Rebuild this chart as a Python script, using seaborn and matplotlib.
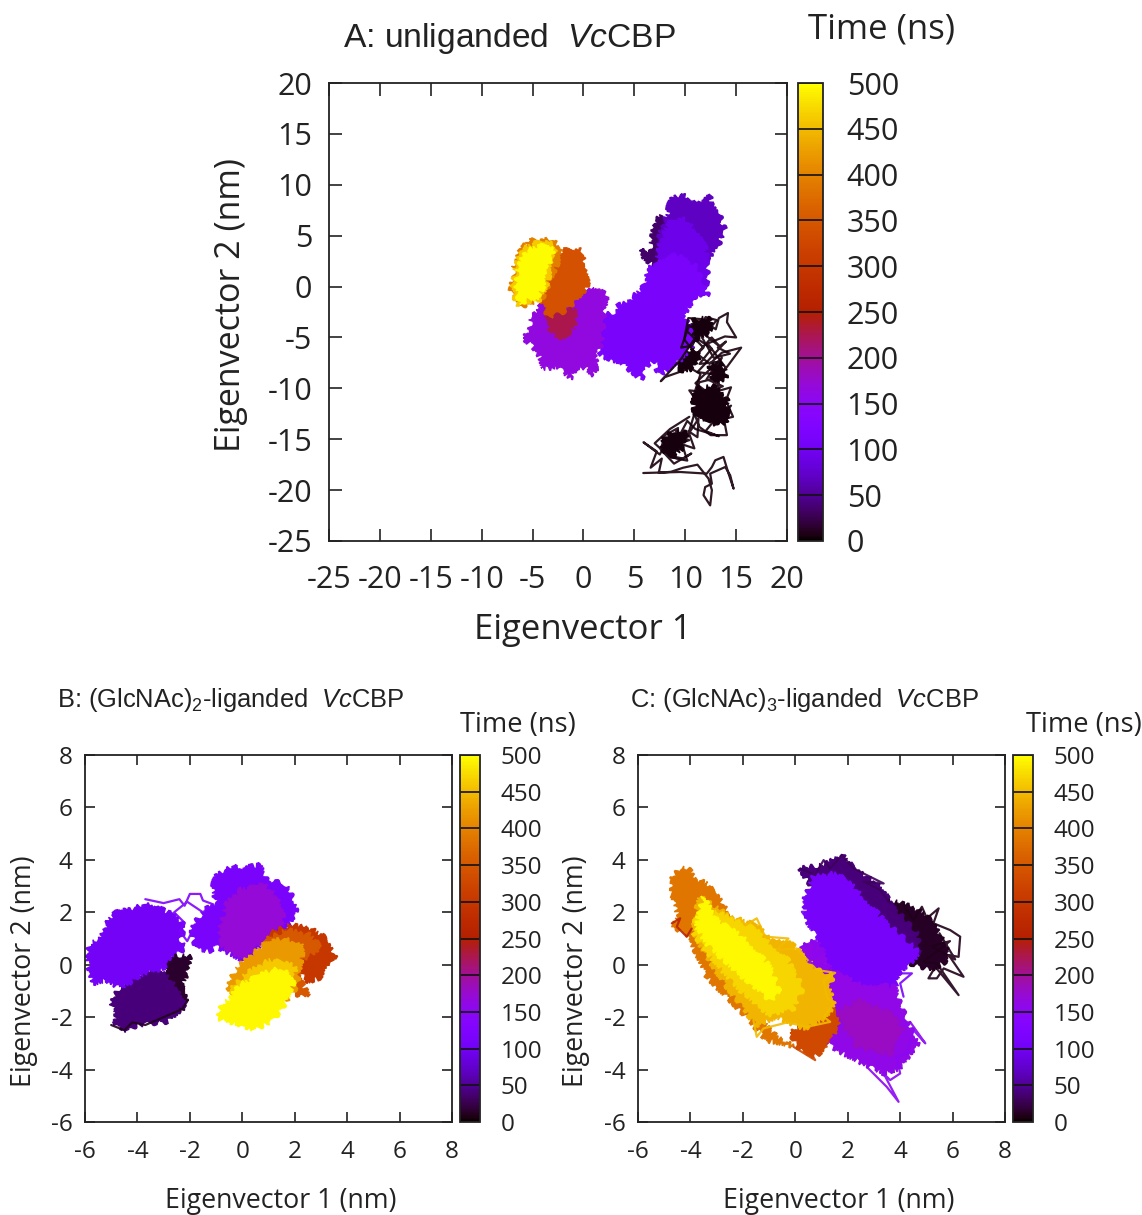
import matplotlib
matplotlib.use("Agg")
import matplotlib.pyplot as plt
import pandas as pd
import seaborn as sns
from matplotlib.cm import ScalarMappable
from matplotlib.colors import Normalize

W, H = 1142, 1215

# time values of each colour band on the colour bars
TIME_TICKS = [0, 50, 100, 150, 200, 250, 300, 350, 400, 450, 500]

# --- panel A, regions covered by the trajectory (eigenvector 1, eigenvector 2)
A_DARK = [(5.5, 3.52), (6.62, 3.42), (6.72, 4.73), (7.04, 6.37), (7.7, 7.03), (8.19, 5.88), (7.86, 3.91), (7.37, 1.95), (6.62, 2.27), (5.9, 2.86)]
A_INDIGO = [(7.7, 2.27), (7.37, 4.57), (7.86, 6.2), (8.35, 7.19), (8.35, 8.34), (9.67, 9.09), (10.81, 8.5), (11.47, 8.44), (12.45, 8.83), (12.62, 7.85), (13.44, 7.19), (13.6, 5.88), (14.09, 5.72), (13.44, 4.73), (13.27, 3.75), (12.62, 3.42), (12.45, 2.6), (11.3, 1.62), (9.5, 1.29), (7.21, 1.62)]
A_INDIGO_2 = [(6.9, 1.0), (7.5, 4.0), (8.3, 6.2), (10.0, 6.6), (11.8, 4.8), (12.2, 2.5), (12.2, 0.5), (11.5, -1.0), (8.0, -1.0), (6.5, 0.0)]
A_VIOLET = [(1.3, -2.64), (2.13, -2.8), (3.27, -2.48), (3.44, -1.83), (4.26, -1.66), (5.08, -0.84), (5.9, -0.02), (6.39, 0.31), (6.22, 1.62), (7.21, 2.6), (9.2, 3.1), (11.14, 1.94), (11.47, 0.96), (11.8, 0.31), (12.29, -1.0), (11.14, -0.84), (10.32, -1.99), (9.83, -2.8), (10.49, -3.96), (10.81, -5.76), (9.5, -7.23), (8.19, -8.22), (7.7, -8.55), (7.21, -8.22), (7.04, -7.23), (6.22, -7.89), (5.73, -9.14), (4.58, -8.22), (3.6, -7.4), (2.45, -7.07), (1.63, -6.74)]
A_PURPLE = [(-5.9, -5.1), (-5.25, -4.28), (-5.09, -2.97), (-4.43, -2.48), (-4.27, -1.5), (-0.33, -0.35), (0.98, -0.02), (2.29, -0.84), (2.03, -2.64), (1.8, -5.6), (1.14, -6.91), (1.47, -7.89), (0.65, -8.71), (0.32, -7.89), (-0.66, -8.05), (-1.32, -9.04), (-2.47, -7.89), (-3.94, -8.05), (-4.27, -6.91), (-4.92, -5.92)]
A_CRIMSON = [(-3.94, -2.64), (-3.45, -2.48), (-1.97, -2.15), (-0.66, -2.48), (-0.92, -3.96), (-1.97, -5.1), (-3.28, -4.45), (-3.61, -3.63)]
A_RUST = [(-4.43, -1.17), (-3.9, 0.2), (-3.45, 1.29), (-3.12, 2.6), (-2.5, 3.2), (-1.8, 3.58), (-0.82, 3.42), (-0.17, 3.58), (0.16, 2.27), (0.58, 0.96), (0.3, -0.1), (-0.17, -0.68), (-0.82, -1.5), (-1.97, -2.48), (-3.45, -2.97), (-3.94, -1.83)]
A_ORANGE = [(-7.28, -0.03), (-6.73, 0.63), (-6.89, 1.78), (-6.5, 2.44), (-6.24, 3.91), (-5.58, 4.08), (-5.42, 4.63), (-4.43, 4.31), (-3.45, 4.63), (-2.79, 4.4), (-1.97, 3.65), (-3.94, -1.0), (-5.25, -1.66), (-6.24, -1.99), (-6.73, -0.84)]
A_GOLD = [(-7.0, -0.3), (-6.7, 1.7), (-6.1, 3.6), (-4.6, 4.3), (-3.0, 4.2), (-2.7, 3.3), (-3.3, 1.3), (-3.7, -0.1), (-4.4, -1.4), (-5.6, -1.5), (-6.3, -2.0), (-6.8, -1.0)]
A_YELLOW = [(-6.6, -0.4), (-6.45, 1.62), (-5.8, 3.3), (-4.43, 4.0), (-3.3, 3.9), (-3.0, 3.2), (-3.6, 1.29), (-3.95, -0.03), (-4.6, -1.2), (-5.6, -1.3), (-6.2, -1.8)]
A_BLACK_CORE_1 = [(10.8, -11.0), (11.2, -10.0), (12.8, -9.8), (14.1, -11.0), (14.2, -13.0), (13.4, -13.6), (12.0, -13.4), (10.9, -12.6)]
A_BLACK_CORE_2 = [(7.6, -15.2), (8.8, -14.2), (10.2, -14.4), (9.8, -15.8), (8.8, -16.7), (8.0, -16.2)]
A_BLACK_CORE_3 = [(10.2, -4.2), (11.0, -3.1), (12.4, -3.2), (12.6, -4.4), (11.0, -5.2)]
A_BLACK_CORE_4 = [(12.4, -7.8), (13.8, -7.6), (14.0, -9.0), (12.8, -9.4)]
A_BLACK_CORE_5 = [(9.4, -7.4), (10.6, -6.0), (11.4, -6.8), (10.8, -8.0), (9.6, -8.4)]
A_LAYERS = [(5, A_BLACK_CORE_1), (5, A_BLACK_CORE_2), (5, A_BLACK_CORE_3), (5, A_BLACK_CORE_4), (5, A_BLACK_CORE_5), (35, A_DARK), (70, A_INDIGO), (92, A_INDIGO_2), (115, A_VIOLET), (165, A_PURPLE), (225, A_CRIMSON), (340, A_RUST), (395, A_ORANGE), (460, A_GOLD), (497, A_YELLOW)]
A_TRACE_1 = [(5.88, -18.32), (9.5, -18.22), (12.12, -18.38), (12.62, -17.73), (12.95, -17.07), (13.76, -16.74), (14.26, -18.38), (14.75, -19.86), (14.42, -18.55), (13.93, -17.73), (12.45, -18.38), (12.62, -19.37), (11.96, -19.7), (11.8, -20.5), (12.45, -21.5), (12.62, -20.0), (12.29, -18.87), (11.2, -17.5), (9.8, -17.8), (8.6, -18.2), (7.4, -18.3), (7.7, -16.9), (6.6, -17.8), (7.2, -16.2), (5.9, -15.3), (7.5, -16.5), (8.2, -15.2), (9.1, -16.9), (10.2, -17.1), (9.7, -15.5), (10.9, -15.9), (10.3, -14.2), (11.2, -14.8), (11.3, -13.0), (10.3, -14.5), (10.9, -12.5), (11.4, -13.8), (12.5, -14.6), (14.1, -14.6), (13.8, -13.0), (14.7, -12.8), (14.0, -11.2), (14.5, -9.9), (13.1, -10.3), (13.4, -8.9), (11.4, -9.4), (10.6, -11.4), (11.5, -8.6), (9.8, -7.6), (10.8, -6.3), (12.4, -7.6), (13.6, -6.5), (15.5, -6.0), (14.1, -7.9), (13.0, -9.0), (14.0, -8.0), (12.2, -5.6), (13.9, -4.9), (15.0, -5.0), (14.1, -3.5), (14.2, -2.6), (13.3, -3.1), (13.0, -4.2), (11.6, -3.2), (10.3, -3.1), (9.9, -5.2), (11.2, -6.8), (10.0, -8.2), (8.0, -8.9), (7.6, -9.3), (9.6, -7.1), (11.0, -5.0), (12.6, -6.1), (11.4, -7.6), (13.2, -7.4), (12.1, -9.1), (13.7, -9.8), (11.2, -10.6)]
A_TRACE_2 = [(10.3, -4.5), (11.8, -6.0), (10.6, -7.2), (12.6, -5.0), (13.4, -5.9), (11.9, -4.7), (13.1, -3.3), (12.0, -3.0), (10.7, -5.8), (9.6, -6.0), (10.4, -3.8), (11.3, -4.4), (12.8, -7.0), (14.4, -6.6), (13.2, -6.0), (14.0, -5.4), (11.2, -8.4), (12.7, -8.6), (13.6, -7.0), (11.0, -9.5), (12.2, -10.4), (10.4, -10.2), (11.6, -11.9), (13.2, -11.4), (11.3, -12.8), (13.0, -13.4), (14.5, -11.7), (13.4, -12.5), (12.0, -14.2), (13.3, -14.7), (11.0, -14.0), (10.2, -13.2), (9.4, -14.7), (10.4, -15.1), (8.4, -15.6), (9.3, -13.9), (8.0, -14.6), (7.6, -16.0), (8.9, -17.4), (10.6, -16.4), (9.8, -16.9), (8.3, -16.6), (7.0, -15.4), (8.5, -14.0), (10.4, -12.8)]
A_TRACES = [(4, A_TRACE_1), (4, A_TRACE_2)]

# --- panel B
B_BLACK = [(-2.94, 0.11), (-2.63, 0.37), (-2.0, 0.3), (-2.12, -0.33), (-2.31, -0.84), (-2.12, -1.48), (-2.37, -1.86), (-2.88, -1.6)]
B_INDIGO = [(-4.98, -1.48), (-4.85, -1.16), (-4.66, -0.84), (-4.15, -0.59), (-3.71, -0.2), (-3.13, -0.27), (-2.75, -0.59), (-2.37, -0.97), (-2.18, -1.48), (-2.5, -1.86), (-2.88, -2.18), (-3.52, -2.24), (-4.03, -2.3), (-4.41, -2.56), (-4.85, -2.24), (-4.79, -1.86)]
B_VIOLET_L = [(-5.93, 0.18), (-5.81, 0.81), (-5.42, 0.94), (-5.1, 1.7), (-4.79, 2.02), (-4.28, 2.08), (-3.64, 2.4), (-3.01, 2.08), (-2.5, 1.83), (-2.18, 1.45), (-2.37, 0.94), (-2.18, 0.62), (-2.75, 0.3), (-3.01, -0.14), (-3.64, -0.27), (-4.15, -0.59), (-4.66, -0.9), (-5.17, -0.59), (-5.68, -0.71), (-5.81, -0.27)]
B_VIOLET_R = [(-1.93, 1.32), (-1.74, 1.7), (-1.35, 2.15), (-0.97, 2.27), (-1.1, 2.85), (-1.1, 3.29), (-0.27, 3.87), (-0.08, 3.68), (0.68, 3.8), (0.94, 3.23), (1.57, 3.1), (1.83, 2.78), (2.08, 2.08), (1.83, 1.64), (1.57, 1.32), (0.81, 0.94), (0.49, 0.43), (0.05, 0.11), (-0.34, 0.37), (-0.97, 0.69), (-1.29, 0.5), (-1.8, 0.62)]
B_PURPLE = [(-0.84, 1.32), (-0.59, 2.34), (-0.08, 2.85), (0.81, 3.04), (1.45, 2.53), (1.57, 1.7), (1.06, 1.07), (0.43, 0.56), (0.05, 0.18), (-0.34, 0.43), (-0.84, 0.81)]
B_RED = [(1.06, 1.19), (1.83, 1.51), (2.59, 1.38), (3.1, 1.07), (3.29, 0.69), (3.61, 0.24), (3.35, 0.0), (2.91, -0.52), (2.46, -0.65), (2.27, -0.33), (1.57, 0.3)]
B_ORANGE = [(0.87, 0.94), (1.7, 1.32), (2.59, 1.13), (2.97, 0.69), (2.34, 0.18), (2.21, -0.59), (2.53, -1.16), (2.21, -1.22), (1.06, -0.33)]
B_AMBER = [(-0.53, -0.84), (-0.34, -0.33), (0.05, 0.11), (0.81, 0.75), (1.57, 1.0), (2.34, 0.81), (2.21, -0.08), (2.08, -0.84), (1.7, -1.35), (1.06, -1.73), (0.17, -1.6), (-0.46, -1.1)]
B_GOLD = [(-0.46, -0.97), (0.17, -0.33), (1.06, 0.18), (2.08, -0.08), (1.83, -0.97), (1.06, -1.86), (0.17, -1.73)]
B_YELLOW = [(-0.91, -2.05), (-0.78, -1.48), (-0.46, -1.35), (-0.21, -0.84), (0.56, -0.46), (1.32, -0.14), (1.76, -0.2), (1.95, -0.71), (1.57, -1.6), (1.19, -2.11), (0.43, -2.5), (-0.21, -2.24)]
B_LAYERS = [(15, B_BLACK), (40, B_INDIGO), (105, B_VIOLET_L), (115, B_VIOLET_R), (170, B_PURPLE), (300, B_RED), (350, B_ORANGE), (420, B_AMBER), (460, B_GOLD), (495, B_YELLOW)]
B_TRACE_1 = [(-3.7, 2.5), (-3.0, 2.35), (-2.4, 2.5), (-2.2, 2.25), (-2.0, 2.7), (-1.6, 2.7), (-1.5, 2.45), (-1.1, 2.3), (-1.5, 2.0), (-2.1, 2.4), (-2.6, 2.0), (-2.2, 1.6), (-2.4, 1.3), (-2.1, 0.9), (-1.9, 1.3)]
B_TRACE_2 = [(-5.8, -0.2), (-5.6, -0.7), (-5.4, -0.3), (-5.5, 0.2)]
B_TRACE_3 = [(-5.0, -2.3), (-4.5, -2.5), (-4.2, -2.2), (-3.7, -2.3), (-3.0, -2.0), (-2.3, -1.7), (-2.1, -1.4)]
B_TRACES = [(120, B_TRACE_1), (105, B_TRACE_2), (10, B_TRACE_3)]

# --- panel C
C_BLACK = [(3.11, 2.59), (4.26, 2.27), (5.0, 1.9), (5.4, 1.3), (5.9, 0.6), (5.7, 0.1), (5.2, -0.2), (4.38, 0.05), (3.87, 1.32)]
C_INDIGO = [(0.19, 3.67), (1.08, 3.8), (1.78, 4.18), (2.35, 3.55), (3.24, 3.1), (3.62, 2.34), (4.64, 1.2), (4.77, 0.43), (4.13, 0.56), (2.73, 1.83), (0.82, 2.59)]
C_VIOLET = [(0.31, 2.4), (0.69, 3.36), (1.58, 3.48), (2.35, 2.85), (3.37, 1.7), (4.51, 0.68), (4.77, 0.37), (4.26, -0.02), (3.94, -0.33), (3.81, -0.91), (3.62, -1.35), (2.6, -1.1), (1.2, -0.33), (0.95, 0.94), (0.5, 1.58)]
C_PURPLE = [(0.25, 0.69), (0.82, 0.94), (1.33, -0.2), (2.35, -0.71), (3.81, -0.84), (4.0, -1.48), (4.38, -2.37), (4.7, -3.0), (4.38, -3.39), (3.94, -4.0), (3.37, -4.15), (2.6, -3.77), (1.84, -3.39), (1.2, -3.0), (1.2, -1.86), (0.9, -0.97), (0.5, -0.2)]
C_MAGENTA = [(1.58, -1.86), (2.35, -1.35), (3.62, -1.86), (4.13, -2.5), (3.62, -3.39), (2.35, -3.13)]
C_RED = [(-0.2, -2.62), (0.57, -2.11), (1.33, -1.48), (1.65, -2.37), (1.2, -3.13), (0.76, -3.5), (0.19, -3.26)]
C_ORANGE = [(-4.78, 3.17), (-4.39, 3.7), (-4.01, 3.6), (-3.89, 3.29), (-3.38, 3.1), (-2.49, 1.96), (-1.72, 0.94), (-1.72, -1.6), (-0.71, -2.75), (-0.07, -3.1), (-1.09, -2.88), (-2.36, -1.48), (-3.38, -0.46), (-4.01, 0.94), (-4.65, 1.51), (-4.46, 1.83), (-4.65, 2.47)]
C_AMBER = [(-3.63, 2.59), (-2.49, 1.83), (-1.47, 1.5), (-1.09, 1.07), (-0.26, 0.9), (0.06, 0.6), (0.82, -0.2), (1.45, -0.4), (1.3, -0.84), (1.46, -1.48), (1.2, -2.0), (0.31, -2.45), (-0.71, -1.99), (-1.47, -2.3), (-1.66, -2.11), (-2.61, -0.84), (-3.63, 0.69), (-3.95, 1.45)]
C_GOLD = [(-3.8, 1.9), (-3.0, 2.0), (-1.6, 1.4), (-0.3, 0.2), (0.3, -0.9), (-0.1, -1.7), (-1.0, -1.9), (-2.2, -0.9), (-3.3, 0.4), (-3.9, 1.2)]
C_YELLOW = [(-3.7, 1.83), (-3.5, 2.59), (-3.0, 1.7), (-1.85, 0.94), (-0.96, -0.08), (-0.58, -1.1), (-0.96, -1.35), (-1.72, -0.71), (-2.61, 0.05), (-3.38, 0.81), (-3.76, 1.45)]
C_LAYERS = [(12, C_BLACK), (40, C_INDIGO), (110, C_VIOLET), (160, C_PURPLE), (180, C_MAGENTA), (330, C_RED), (385, C_ORANGE), (445, C_AMBER), (470, C_GOLD), (495, C_YELLOW)]
C_TRACE_1 = [(4.13, 2.28), (4.51, 1.7), (4.83, 2.21), (5.02, 1.77), (5.47, 2.15), (5.27, 1.58), (5.91, 1.32), (6.29, 1.07), (6.23, 0.3), (5.85, 0.37), (6.42, -0.46), (5.66, -0.14), (5.4, -0.52), (5.08, -0.52), (5.34, -0.08), (6.23, -1.16), (5.4, 0.05), (4.89, 0.11), (5.9, 0.9), (5.2, 0.7), (6.1, 0.2), (5.5, 1.2)]
C_TRACE_2 = [(0.19, 3.67), (0.76, 3.42), (1.08, 3.99), (1.33, 3.67), (1.78, 4.18), (2.22, 3.67), (3.37, 3.1), (2.6, 3.17), (3.24, 2.85), (3.62, 2.34)]
C_TRACE_3 = [(-2.1, 1.77), (-1.91, 1.5), (-1.47, 1.77), (-1.15, 1.07), (-0.26, 1.0), (-0.71, 0.56), (0.06, 0.62), (0.82, -0.2), (1.52, -0.31), (1.08, -0.59), (1.2, -1.22), (1.46, -1.48), (1.08, -1.99), (1.33, -2.18), (0.44, -2.37), (-0.3, -2.2), (-1.21, -2.43), (-1.47, -2.75), (-1.6, -2.11)]
C_TRACE_4 = [(0.25, 0.69), (0.82, 0.94), (0.69, 0.43), (1.14, 0.56), (0.5, 0.1), (1.3, -0.1)]
C_TRACE_5 = [(4.38, -2.18), (4.96, -3.0), (4.51, -2.5), (4.26, -3.39), (3.87, -3.51), (4.0, -4.15), (3.62, -4.4), (3.37, -4.15), (3.94, -5.23), (3.49, -4.66), (2.73, -3.9)]
C_TRACE_6 = [(0.31, 2.4), (0.57, 2.02), (0.25, 2.02), (0.69, 1.45), (0.95, 1.0)]
C_TRACE_7 = [(3.94, -0.33), (4.45, -0.33), (4.0, -0.71), (4.13, -1.22)]
C_TRACE_8 = [(-4.71, 1.58), (-4.39, 1.77), (-4.52, 1.45), (-4.14, 1.07), (-3.95, 1.38)]
C_TRACE_9 = [(-0.07, -3.13), (0.76, -3.64), (0.44, -3.13), (1.2, -3.13)]
C_TRACES = [(8, C_TRACE_1), (30, C_TRACE_2), (450, C_TRACE_3), (150, C_TRACE_4), (150, C_TRACE_5), (110, C_TRACE_6), (115, C_TRACE_7), (260, C_TRACE_8), (330, C_TRACE_9)]

sns.set_theme(style="ticks")
plt.rcParams["font.family"] = ["Open Sans", "DejaVu Sans"]
plt.rcParams["axes.unicode_minus"] = False
plt.rcParams["mathtext.fontset"] = "custom"
plt.rcParams["mathtext.rm"] = "Liberation Sans"
plt.rcParams["mathtext.it"] = "Liberation Sans:italic"

cmap = sns.color_palette("gnuplot", as_cmap=True)
norm = Normalize(0, 500)


def px_rect(left, top, right, bottom):
    return [left / W, 1 - bottom / H, (right - left) / W, (bottom - top) / H]


def put_text(x, y, s, size, **kw):
    kw.setdefault("ha", "center")
    kw.setdefault("va", "center")
    kw.setdefault("color", "#222222")
    fig.text(x / W, 1 - y / H, s, fontsize=size, **kw)


def draw_panel(rect, cbar_rect, lims, ticks, layers, traces, label_size, tick_len, pads):
    ax = fig.add_axes(px_rect(*rect))
    # frame-to-frame traces sit under the filled regions
    for t, pts in traces:
        df_trace = pd.DataFrame(pts, columns=["ev1", "ev2"])
        sns.lineplot(data=df_trace, x="ev1", y="ev2", sort=False, estimator=None, ax=ax,
                     color=cmap(norm(t)), linewidth=1.6, alpha=0.9)
    for t, pts in layers:
        xs, ys = zip(*pts)
        patches = ax.fill(xs, ys, color=cmap(norm(t)), linewidth=1.0)
        # rough, frayed edge of a dense trajectory
        for p in patches:
            p.set_sketch_params(scale=2.6, length=7, randomness=10)
    ax.set_xlim(lims)
    ax.set_ylim(lims)
    ax.set_xticks(ticks)
    ax.set_yticks(ticks)
    ax.set_xlabel("")
    ax.set_ylabel("")
    ax.tick_params(direction="in", top=True, right=True, length=tick_len, width=1.2,
                   labelsize=label_size, labelcolor="#222222", color="#222222")
    ax.tick_params(axis="x", pad=pads[0])
    ax.tick_params(axis="y", pad=pads[1])
    for sp in ax.spines.values():
        sp.set_linewidth(1.3)
        sp.set_color("#222222")
    cax = fig.add_axes(px_rect(*cbar_rect))
    cb = fig.colorbar(ScalarMappable(norm=norm, cmap=cmap), cax=cax)
    cb.set_ticks(TIME_TICKS)
    cb.ax.tick_params(length=0, labelsize=label_size, labelcolor="#222222", pad=pads[2])
    cb.outline.set_linewidth(1.3)
    cb.outline.set_edgecolor("#222222")
    cax.hlines(TIME_TICKS, 0, 1, transform=cax.get_yaxis_transform(), color="#111111", linewidth=1.2)
    return ax


fig = plt.figure(figsize=(W / 100, H / 100), dpi=100, facecolor="white")

draw_panel((329, 83, 787, 541), (798, 83, 823, 541), (-25, 20), list(range(-25, 21, 5)),
           A_LAYERS, A_TRACES, 22, 9, (17, 12, 17))
draw_panel((85, 755, 452, 1122), (460, 755, 480, 1122), (-6, 8), list(range(-6, 9, 2)),
           B_LAYERS, B_TRACES, 17.5, 7, (13, 9, 15))
draw_panel((638, 755, 1005, 1122), (1013, 755, 1033, 1122), (-6, 8), list(range(-6, 9, 2)),
           C_LAYERS, C_TRACES, 17.5, 7, (13, 9, 15))

title_font = ["Liberation Sans", "DejaVu Sans"]

# panel A texts
put_text(343, 38, r"A: unliganded  $\mathit{Vc}$CBP", 24.2, ha="left", family=title_font)
put_text(882, 29, "Time (ns)", 25)
put_text(583, 630, "Eigenvector 1", 25)
put_text(231, 305, "Eigenvector 2 (nm)", 24.5, rotation=90)

# panels B and C texts
put_text(57, 700, r"B: (GlcNAc)$_{2}$-liganded  $\mathit{Vc}$CBP", 18.4, ha="left", family=title_font)
put_text(630, 700, r"C: (GlcNAc)$_{3}$-liganded  $\mathit{Vc}$CBP", 18.4, ha="left", family=title_font)
for cx in (518, 1084):
    put_text(cx, 725, "Time (ns)", 19.7)
for cx in (281, 839):
    put_text(cx, 1201, "Eigenvector 1 (nm)", 19.3)
for cx in (24, 576):
    put_text(cx, 971, "Eigenvector 2 (nm)", 19.3, rotation=90)

fig.savefig("out.png", dpi=100)
